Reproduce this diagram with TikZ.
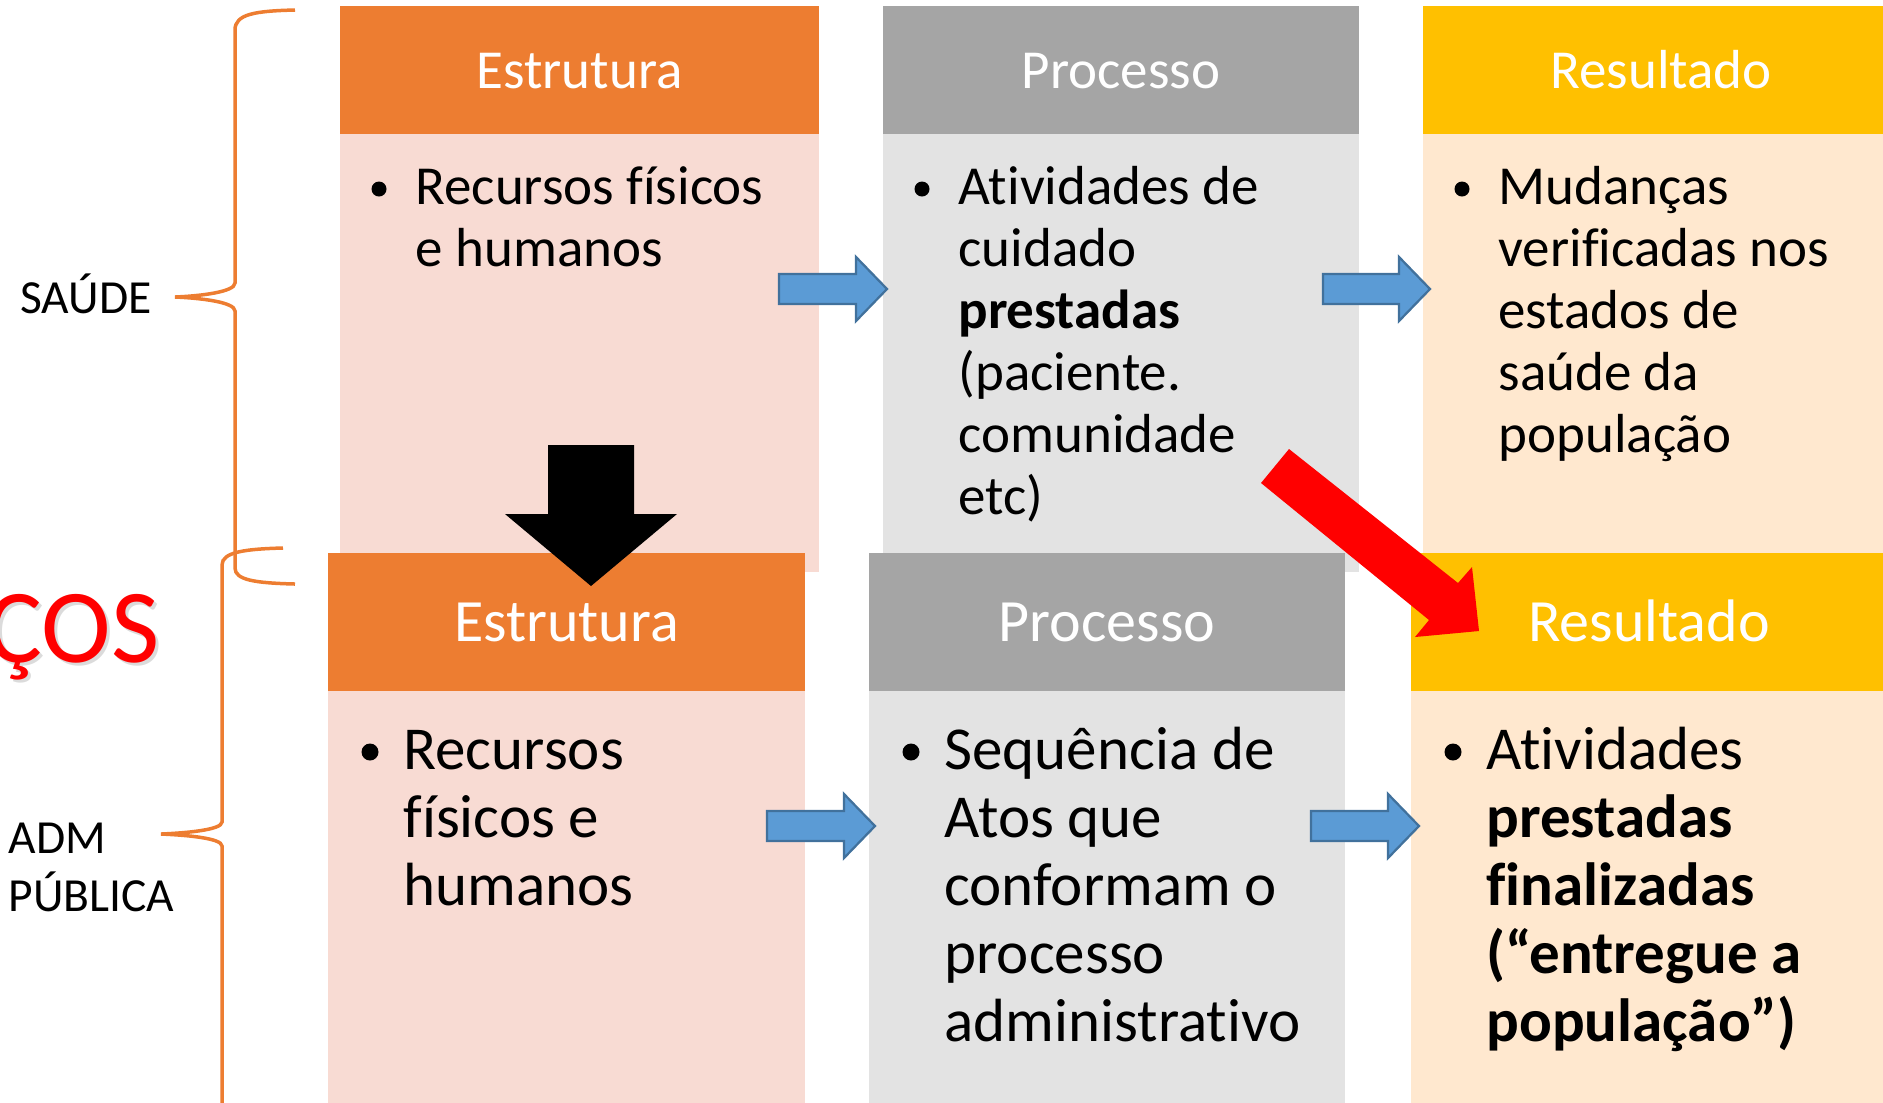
\documentclass[tikz,border=0pt]{standalone}
\usepackage{fontspec}
\setmainfont{Carlito}[Ligatures=NoCommon]
\newcommand{\nolig}{\kern0pt\relax}
\definecolor{orH}{HTML}{ED7D31}
\definecolor{orB}{HTML}{F8DBD3}
\definecolor{grH}{HTML}{A5A5A5}
\definecolor{grB}{HTML}{E3E3E3}
\definecolor{yeH}{HTML}{FFC000}
\definecolor{yeB}{HTML}{FFE8CF}
\definecolor{blF}{HTML}{5B9BD5}
\definecolor{blD}{HTML}{41719C}
\begin{document}
\begin{tikzpicture}[x=0.4pt,y=-0.4pt,
  ttltop/.style={text=white,anchor=base,inner sep=0,font=\fontsize{22}{26}\selectfont},
  ttlbot/.style={text=white,anchor=base,inner sep=0,font=\fontsize{24}{28}\selectfont},
  txttop/.style={anchor=base west,inner sep=0,align=left,font=\fontsize{22}{24.8}\selectfont},
  txtbot/.style={anchor=base west,inner sep=0,align=left,font=\fontsize{24.4}{27.2}\selectfont},
  lbl/.style={anchor=base west,inner sep=0,align=left,font=\fontsize{19}{23.2}\selectfont},
  bluearrow/.style={fill=blF,draw=blD,line width=0.9pt,line join=miter},
  bracestyle/.style={draw=orH,line width=1.4pt}
]
\clip (0,0) rectangle (1883,1102);

% ---------- top row ----------
\fill[orB] (340,134) rectangle (819,572);
\fill[orH] (340,6) rectangle (819,134);
\fill[grB] (883,134) rectangle (1359,572);
\fill[grH] (883,6) rectangle (1359,134);
\fill[yeB] (1423,134) rectangle (1899,572);
\fill[yeH] (1423,6) rectangle (1899,134);

\node[ttltop] (t1h) at (579.5,88) {Estrutura};
\node[ttltop] (t2h) at (1121,88) {Processo};
\node[ttltop] (t3h) at (1661,88) {Resultado};

% bullets (first line) and texts; anchor is the baseline of the last line
\fill (379,189) circle (7.5);
\fill (922,189) circle (7.5);
\fill (1462,189) circle (7.5);
\node[txttop] (t1b) at (415,266) {Recursos físicos\\e humanos};
\node[txttop] (t2b) at (958,514) {At\nolig ividades de\\cuidado\\\textbf{prestadas}\\(paciente.\\comunidade\\etc)};
\node[txttop] (t3b) at (1498,452) {Mudanças\\verificadas nos\\estados de\\saúde da\\população};

\draw[bluearrow] (779,274) -- (856,274) -- (856,257) -- (887,289) -- (856,321) -- (856,304) -- (779,304) -- cycle;
\draw[bluearrow] (1323,274) -- (1399,274) -- (1399,257) -- (1430,289) -- (1399,321) -- (1399,304) -- (1323,304) -- cycle;

% ---------- bottom row ----------
\fill[orB] (328,691) rectangle (805,1110);
\fill[orH] (328,553) rectangle (805,691);
\fill[grB] (869,691) rectangle (1345,1110);
\fill[grH] (869,553) rectangle (1345,691);
\fill[yeB] (1411,691) rectangle (1887,1110);
\fill[yeH] (1411,553) rectangle (1887,691);

\node[ttlbot] (b1h) at (566.5,641) {Estrutura};
\node[ttlbot] (b2h) at (1107,641) {Processo};
\node[ttlbot] (b3h) at (1649,641) {Resultado};

\fill (370,752) circle (8.5);
\fill (911,752) circle (8.5);
\fill (1453,752) circle (8.5);
\node[txtbot] (b1b) at (403,905) {Recursos\\físicos e\\humanos};
\node[txtbot] (b2b) at (944,1041) {Sequência de\\Atos que\\conformam o\\processo\\administrat\nolig ivo};
\node[txtbot] (b3b) at (1486,1041) {At\nolig ividades\\\textbf{prestadas}\\\textbf{finalizadas}\\\textbf{(“entregue a}\\\textbf{população”)}};

\draw[bluearrow] (767,811) -- (844,811) -- (844,794) -- (875,826) -- (844,858) -- (844,841) -- (767,841) -- cycle;
\draw[bluearrow] (1311,811) -- (1388,811) -- (1388,794) -- (1419,826) -- (1388,858) -- (1388,841) -- (1311,841) -- cycle;

% ---------- black and red arrows ----------
\fill[black] (548,445) -- (634,445) -- (634,514) -- (677,514) -- (591,586) -- (505,514) -- (548,514) -- cycle;
\fill[red] (1289,449) -- (1458,583) -- (1472,567) -- (1479,631) -- (1415,637) -- (1429,620) -- (1261,483) -- cycle;

% ---------- left labels ----------
\node[lbl] (saude) at (20,313) {SAÚDE};
\node[lbl] (adm) at (8,911) {ADM\\PÚBLICA};
\node[anchor=base east,inner sep=0,text=black!40,opacity=0.35,font=\fontsize{42}{48}\selectfont] (cosshadow) at (163,665) {ÇOS};
\node[anchor=base east,inner sep=0,text=red,font=\fontsize{42}{48}\selectfont] (cos) at (160,662) {ÇOS};

% ---------- braces ----------
\draw[bracestyle] (295,10) .. controls (255,11) and (235,14) .. (235,30) -- (235,283)
  .. controls (235,292) and (200,296) .. (175,297)
  .. controls (200,298) and (235,302) .. (235,311) -- (235,568)
  .. controls (235,580) and (255,583) .. (295,584);
\draw[bracestyle] (283,548) .. controls (245,549) and (222,552) .. (222,565) -- (222,822)
  .. controls (222,830) and (185,833) .. (161,834)
  .. controls (185,835) and (222,838) .. (222,846) -- (222,1110);
\end{tikzpicture}
\end{document}
